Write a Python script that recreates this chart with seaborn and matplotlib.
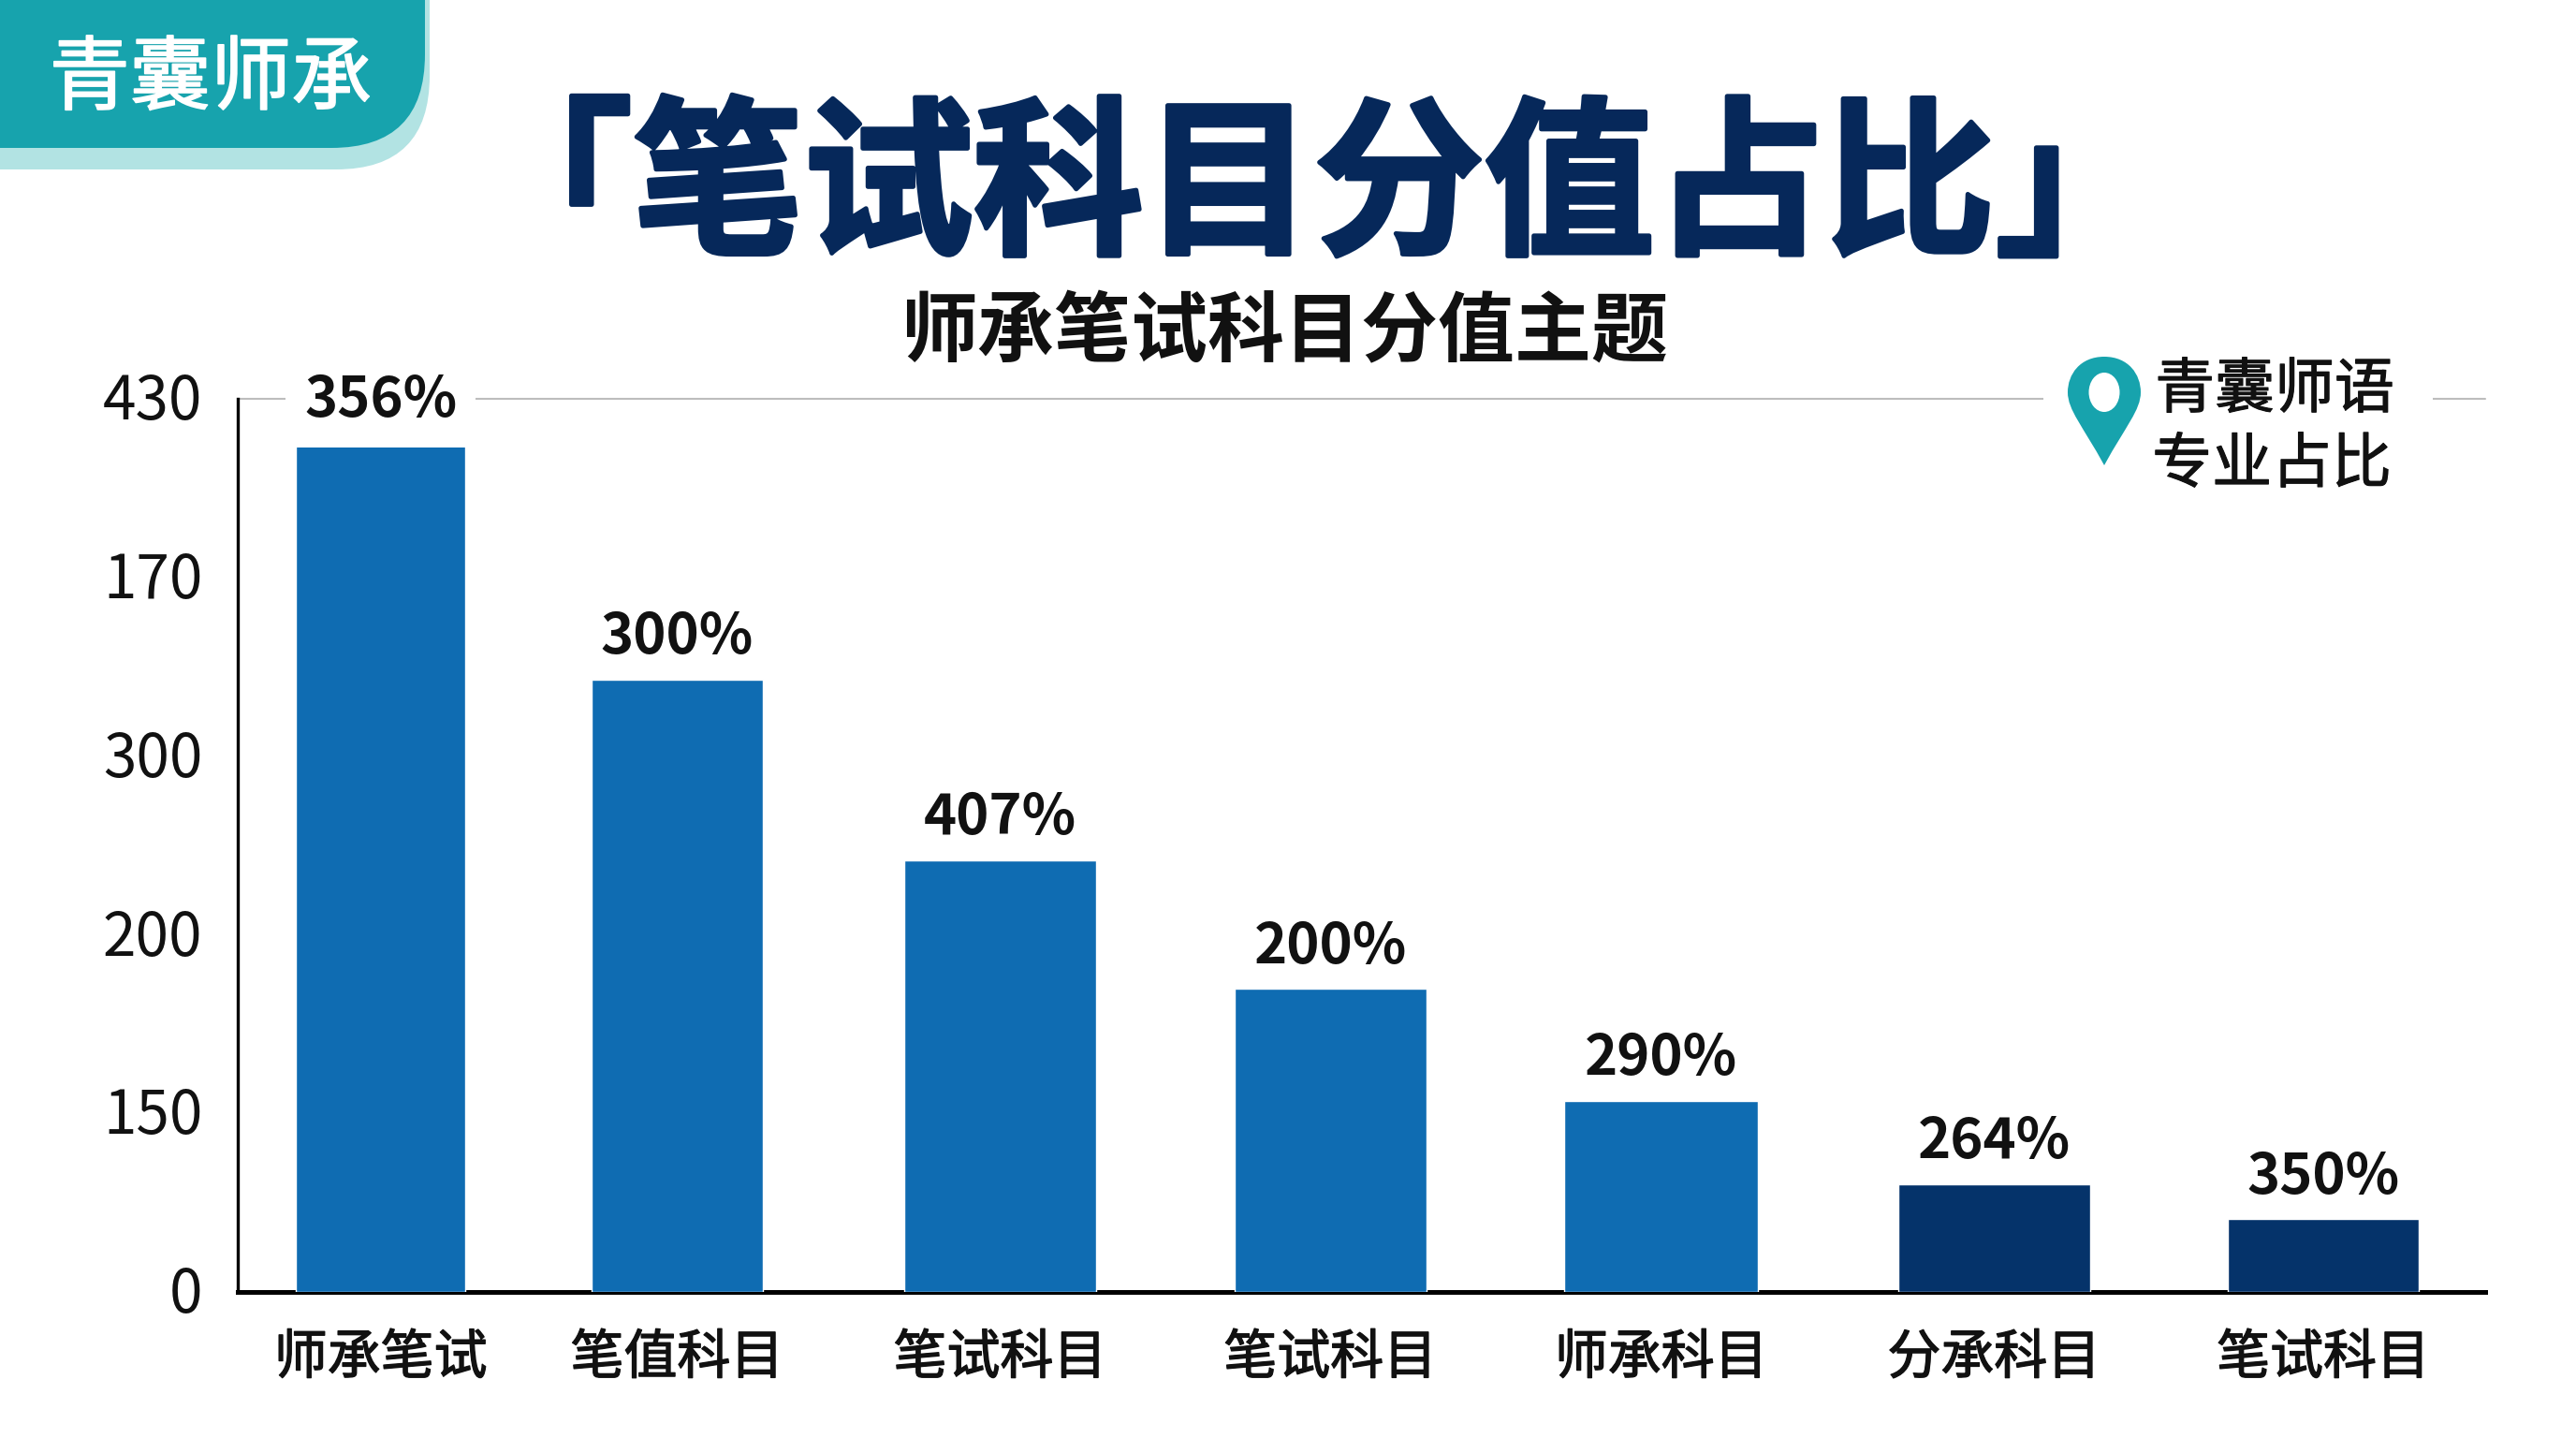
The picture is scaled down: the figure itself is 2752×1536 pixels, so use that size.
import matplotlib
matplotlib.use("Agg")
import matplotlib.pyplot as plt
import matplotlib.patheffects as pe
import seaborn as sns
import pandas as pd
from matplotlib.patches import FancyBboxPatch, PathPatch, Ellipse, Rectangle
from matplotlib.path import Path
from matplotlib.transforms import ScaledTranslation

# data
categories = ["师承笔试", "笔值科目", "笔试科目", "笔试科目", "师承科目", "分承科目", "笔试科目"]
values = [409, 295, 208, 146, 92, 52, 35]
value_labels = ["356%", "300%", "407%", "200%", "290%", "264%", "350%"]
ytick_pos = [0, 86, 172, 258, 344, 430]
ytick_labels = ["0", "150", "200", "300", "170", "430"]

# layout and colours
slot_pos = [0, 0.898, 1.876, 2.876, 3.878, 4.886, 5.883]
bar_widths = [0.512, 0.517, 0.582, 0.582, 0.587, 0.582, 0.577]
bar_colors = ["#0F6CB2"] * 5 + ["#05336A"] * 2
TEAL = "#17A3AD"
LIGHT_TEAL = "#B2E3E3"
NAVY = "#06285A"
W, H = 2752, 1536


def thicken(color, width):
    return [pe.withStroke(linewidth=width, foreground=color)]


sns.set_theme(style="white")
plt.rcParams["font.family"] = ["Noto Sans CJK SC", "DejaVu Sans"]

fig = plt.figure(figsize=(W / 100, H / 100), dpi=100, facecolor="white")
ax = fig.add_axes([254 / W, 1 - 1380 / H, (2655 - 254) / W, (1380 - 426) / H])

df = pd.DataFrame({"pos": slot_pos, "value": values, "bar": range(len(values))})
sns.barplot(data=df, x="pos", y="value", hue="bar", palette=bar_colors, dodge=False,
            native_scale=True, legend=False, saturation=1, ax=ax)

# bars are not quite the same width in the original
for patch, pos, w in zip(ax.patches, slot_pos, bar_widths):
    patch.set_x(pos - w / 2)
    patch.set_width(w)
    patch.set_zorder(3)

ax.set_xlim(-0.433, 6.373)
ax.set_ylim(0, 430)
ax.set_xticks(slot_pos)
ax.set_xticklabels(categories, fontsize=41, color="#111111",
                   path_effects=thicken("#111111", 1.0))
ax.set_yticks(ytick_pos)
ax.set_yticklabels(ytick_labels, fontsize=46, color="#111111")
ax.tick_params(axis="x", length=0, pad=30)
ax.tick_params(axis="y", length=0, pad=27)
ax.set_xlabel("")
ax.set_ylabel("")

# the y labels sit a little high in the original
shift_up = ScaledTranslation(0, 2.5 / 72, fig.dpi_scale_trans)
for lbl in ax.get_yticklabels():
    lbl.set_transform(lbl.get_transform() + shift_up)

sns.despine(ax=ax)
ax.spines["left"].set_linewidth(2.4)
ax.spines["left"].set_color("black")
ax.spines["bottom"].set_linewidth(3.6)
ax.spines["bottom"].set_color("black")
ax.axhline(430, color="#BDBDBD", lw=1.5, zorder=1, clip_on=False)

for i, (patch, label) in enumerate(zip(ax.patches, value_labels)):
    box = dict(facecolor="white", edgecolor="none", pad=14) if i == 0 else None
    ax.annotate(label, (patch.get_x() + patch.get_width() / 2, patch.get_height()),
                xytext=(0, 32), textcoords="offset points", ha="center", va="center",
                fontsize=43, fontweight="bold", color="#111111", bbox=box, zorder=4)

# overlay in pixel coordinates for badge, titles and the pin
over = fig.add_axes([0, 0, 1, 1], zorder=5)
over.set_xlim(0, W)
over.set_ylim(H, 0)
over.axis("off")

over.add_patch(FancyBboxPatch((-200, -200), 659, 381, boxstyle="round,pad=0,rounding_size=100",
                              facecolor=LIGHT_TEAL, edgecolor="none"))
over.add_patch(FancyBboxPatch((-200, -200), 654, 358, boxstyle="round,pad=0,rounding_size=100",
                              facecolor=TEAL, edgecolor="none"))
over.text(225, 86, "青囊师承", fontsize=62, color="white", ha="center", va="center",
          path_effects=thicken("white", 1.2))

over.text(1404, 204, "「笔试科目分值占比」", fontsize=131, fontweight="black", color=NAVY,
          ha="center", va="center", path_effects=thicken(NAVY, 3.5))
over.text(1372, 357, "师承笔试科目分值主题", fontsize=59, fontweight="bold", color="#111111",
          ha="center", va="center")

# legend block breaks the top grid line
over.add_patch(Rectangle((2183, 415), 416, 22, facecolor="white", edgecolor="none"))
pin_verts = [(2248, 381), (2222, 381), (2209, 400), (2209, 419), (2209, 438), (2225, 455), (2248, 497),
             (2271, 455), (2287, 438), (2287, 419), (2287, 400), (2274, 381), (2248, 381)]
pin_codes = [Path.MOVETO] + [Path.CURVE4] * 12
over.add_patch(PathPatch(Path(pin_verts, pin_codes), facecolor=TEAL, edgecolor="none"))
over.add_patch(Ellipse((2248, 419), 33, 42, facecolor="white", edgecolor="none"))
over.text(2430, 417, "青囊师语", fontsize=46, color="#111111", ha="center", va="center",
          path_effects=thicken("#111111", 0.8))
over.text(2427, 497, "专业占比", fontsize=46, color="#111111", ha="center", va="center",
          path_effects=thicken("#111111", 0.8))

fig.savefig("out.png", dpi=100)
plt.close(fig)
